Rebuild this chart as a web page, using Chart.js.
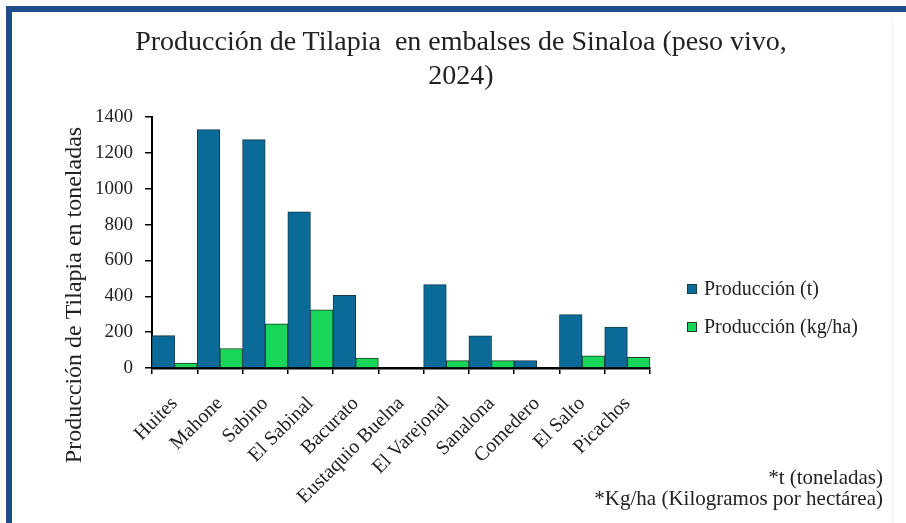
<!DOCTYPE html>
<html lang="es">
<head>
<meta charset="utf-8">
<script src="https://cdn.jsdelivr.net/npm/chart.js@4.4.1/dist/chart.umd.min.js"></script>
<style>
  html, body { margin: 0; padding: 0; background: #fff; }
  #wrap { position: relative; width: 906px; height: 523px; overflow: hidden; background: #fff; }
  .frame-top { position: absolute; left: 6px; top: 6px; width: 900px; height: 6px; background: #1c4d88; }
  .frame-left { position: absolute; left: 6px; top: 6px; width: 6px; height: 517px; background: #1c4d88; }
  .edge { position: absolute; left: 892px; top: 18px; width: 1px; height: 505px; background: #efefef; }
  canvas { position: absolute; left: 0; top: 0; }
  .title {
    position: absolute; left: 16px; width: 890px; top: 24px;
    text-align: center; font: 28px/34px "Liberation Serif", serif; color: #222;
  }
  .note {
    position: absolute; right: 23px; text-align: right;
    font: 21px/21px "Liberation Serif", serif; color: #222; white-space: nowrap;
  }
</style>
</head>
<body>
<div id="wrap">
  <div class="frame-top"></div>
  <div class="frame-left"></div>
  <div class="edge"></div>
  <canvas id="chart" width="906" height="523"></canvas>
  <div class="title">Producción de Tilapia&nbsp; en embalses de Sinaloa (peso vivo,<br>2024)</div>
  <div class="note" style="top:467px">*t (toneladas)</div>
  <div class="note" style="top:488px">*Kg/ha (Kilogramos por hectárea)</div>
</div>
<script>
// Datos
const categories = ["Huites", "Mahone", "Sabino", "El Sabinal", "Bacurato", "Eustaquio Buelna",
  "El Varejonal", "Sanalona", "Comedero", "El Salto", "Picachos"];
const produccionT = [181, 1330, 1274, 871, 406, 0, 465, 180, 41, 298, 228];
const produccionKgHa = [28, 109, 246, 324, 56, 0, 41, 41, 0, 68, 59];
const yTicks = [0, 200, 400, 600, 800, 1000, 1200, 1400];
const yTitle = "Producción de Tilapia en toneladas";

const SERIF = '"Liberation Serif", "Times New Roman", serif';
const INK = "#222";

// Leyenda lateral y título del eje Y (centrado más abajo que el eje, como en el original)
const extras = {
  id: "extras",
  afterDraw(chart) {
    const ctx = chart.ctx;
    ctx.save();
    ctx.font = "20px " + SERIF;
    ctx.textBaseline = "middle";
    chart.data.datasets.forEach((ds, i) => {
      const y = 289 + i * 38;
      ctx.fillStyle = ds.backgroundColor;
      ctx.fillRect(687, y - 5, 10, 10);
      ctx.strokeStyle = ds.borderColor;
      ctx.lineWidth = 1;
      ctx.strokeRect(687.5, y - 4.5, 9, 9);
      ctx.fillStyle = INK;
      ctx.fillText(ds.label, 704, y + 1);
    });
    ctx.translate(75, 295);
    ctx.rotate(-Math.PI / 2);
    ctx.textAlign = "center";
    ctx.font = "24px " + SERIF;
    ctx.fillStyle = INK;
    ctx.fillText(yTitle, 0, 0);
    ctx.restore();
  },
};

new Chart(document.getElementById("chart").getContext("2d"), {
  type: "bar",
  data: {
    labels: categories,
    datasets: [
      {
        label: "Producción (t)",
        data: produccionT,
        backgroundColor: "#0a6a98",
        borderColor: "#163a4e",
        borderWidth: 1,
      },
      {
        label: "Producción (kg/ha)",
        data: produccionKgHa,
        backgroundColor: "#17d65a",
        borderColor: "#1c3a24",
        borderWidth: 1,
      },
    ],
  },
  options: {
    responsive: false,
    animation: false,
    devicePixelRatio: 1,
    datasets: { bar: { categoryPercentage: 1, barPercentage: 1 } },
    layout: { padding: { left: 60, top: 117, right: 256, bottom: 0 } },
    scales: {
      x: {
        afterFit: (s) => { s.height = 155; },
        grid: { offset: true, drawOnChartArea: false, tickLength: 6, color: "#000", lineWidth: 1.5 },
        border: { color: "#000", width: 2.5 },
        ticks: {
          color: INK, font: { family: SERIF, size: 20 },
          maxRotation: 45, minRotation: 45, autoSkip: false, padding: 18,
        },
      },
      y: {
        min: 0, max: 1400,
        afterFit: (s) => { s.width = 92; },
        afterBuildTicks: (s) => { s.ticks = yTicks.map((v) => ({ value: v })); },
        grid: { drawOnChartArea: false, tickLength: 7, color: "#000", lineWidth: 1.5 },
        border: { color: "#000", width: 2 },
        ticks: { color: INK, font: { family: SERIF, size: 19 }, padding: 12, callback: (v) => String(v) },
      },
    },
    plugins: {
      legend: { display: false },
      title: { display: false },
      tooltip: { enabled: false },
    },
  },
  plugins: [extras],
});
</script>
</body>
</html>
